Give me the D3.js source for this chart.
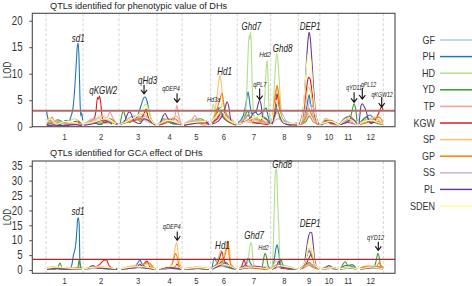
<!DOCTYPE html>
<html><head><meta charset="utf-8">
<script src="https://cdn.jsdelivr.net/npm/d3@7"></script>
<style>
html,body{margin:0;padding:0;background:#fff;}
svg{display:block;font-family:"Liberation Sans",Arial,sans-serif;}
</style></head>
<body><svg id="c" width="472" height="286"></svg>
<script>
// ---------- data ----------
const chrNames = ["1","2","3","4","5","6","7","8","9","10","11","12"];
const chrLengths = [185,180,190,125,143,133,167,138,108,92,100,125]; // cM
const traits = ["GF","PH","HD","YD","TP","KGW","SP","GP","SS","PL","SDEN"];
const traitColors = ["#a6cee3","#1f78b4","#b2df8a","#33a02c","#fb9a99","#e31a1c","#fdbf6f","#ff7f00","#cab2d6","#6a3d9a","#ffff99"];
const thresholdPV = 3.0;
const thresholdGCA = 3.6;
const ticksPV = [0,5,10,15,20];
const ticksGCA = [0,5,10,15,20,25,30,35];

// LOD profiles, phenotypic value (position = cumulative cM, LOD)
const pvGF = [[5,0.5],[60,1.2],[120,0.4],[170,0.8],[195,0.3],[260,0.9],[330,0.5],[375,0.6],[450,1.5],[520,0.7],[565,0.3],[620,0.8],[670,0.4],[690,0.5],[760,1.0],[815,0.3],[830,0.8],[880,2.5],[940,1.0],[965,0.5],[1010,2.8],[1060,1.5],[1110,0.7],[1130,0.6],[1160,3.5],[1200,1.2],[1250,0.4],[1270,0.5],[1310,5.0],[1340,2.0],[1360,0.4],[1375,0.3],[1410,1.0],[1460,0.3],[1470,0.5],[1510,1.5],[1550,0.5],[1570,0.5],[1620,1.2],[1680,0.6]];
const pvPH = [[2,3.1],[10,1.5],[20,0.6],[70,0.4],[100,1.2],[115,1.0],[125,2.0],[135,3.5],[145,8],[152,12.5],[157,15.3],[161,15.8],[165,13],[170,5],[174,2.0],[178,2.6],[183,1.2],[190,0.5],[230,0.8],[270,0.4],[310,1.0],[360,0.5],[375,0.5],[420,1.2],[450,1.5],[465,2.8],[480,4.6],[492,5.6],[500,5.4],[510,4],[520,2],[535,0.8],[550,0.4],[565,0.4],[600,1.0],[640,0.5],[675,0.8],[690,0.5],[730,1.0],[780,0.6],[815,0.9],[830,1.0],[845,2.2],[860,3.6],[870,2.5],[885,3.2],[900,1.8],[920,1.0],[950,0.5],[960,0.8],[985,2.0],[1000,4.5],[1010,6.6],[1020,4.0],[1030,2.5],[1045,3.0],[1060,2.2],[1080,2.8],[1100,3.5],[1110,2.0],[1120,0.8],[1130,1.0],[1140,3.5],[1150,5.8],[1157,6.2],[1165,4.0],[1175,2.0],[1195,1.0],[1230,0.5],[1255,0.8],[1270,0.5],[1290,1.5],[1305,4.0],[1315,6.0],[1325,4.0],[1335,3.8],[1345,2.0],[1360,0.6],[1375,0.4],[1400,1.2],[1430,0.5],[1455,0.8],[1470,0.6],[1490,1.5],[1520,2.0],[1540,1.0],[1555,0.5],[1570,0.8],[1590,1.5],[1620,2.2],[1650,1.0],[1680,0.7]];
const pvHD = [[5,0.5],[40,1.0],[90,0.5],[140,1.5],[180,0.5],[190,0.5],[240,1.2],[300,0.6],[350,1.0],[395,1.0],[455,2.0],[480,3.0],[500,4.3],[515,3.0],[530,1.0],[550,0.5],[560,0.5],[610,1.5],[650,0.6],[675,0.3],[690,0.4],[740,1.5],[790,0.8],[815,0.5],[828,2.5],[835,4.2],[845,3.0],[860,1.5],[875,3.5],[885,5.0],[895,3.0],[915,1.5],[950,0.6],[970,0.6],[995,2.0],[1005,8],[1012,15.5],[1016,17.3],[1020,16.5],[1023,17.8],[1027,14],[1032,6],[1040,2],[1060,1.0],[1080,1.5],[1090,3.5],[1097,8],[1102,11.5],[1106,12.6],[1110,9],[1115,3],[1121,1.0],[1128,1.0],[1135,3.0],[1142,8.0],[1149,12.5],[1153,13.8],[1160,12.0],[1167,8.0],[1175,3.0],[1185,1.0],[1220,0.5],[1255,0.3],[1270,0.5],[1300,2.0],[1315,3.0],[1330,2.0],[1360,0.5],[1375,0.3],[1420,1.0],[1460,0.4],[1470,0.5],[1510,1.5],[1550,0.6],[1570,0.5],[1610,1.5],[1650,0.8],[1680,0.4]];
const pvYD = [[5,0.3],[30,0.8],[60,1.3],[100,0.5],[160,1.0],[180,0.4],[190,0.4],[220,1.0],[270,0.5],[320,1.5],[350,0.6],[370,0.5],[387,2.9],[400,1.5],[420,0.8],[445,2.0],[470,1.0],[500,3.0],[515,1.5],[545,0.5],[565,0.5],[590,1.5],[630,0.6],[670,0.5],[690,0.4],[720,0.8],[770,1.5],[810,0.6],[830,0.8],[850,2.0],[872,3.6],[880,2.0],[900,1.2],[930,0.6],[950,0.5],[962,0.5],[990,1.5],[1008,3.0],[1025,1.0],[1060,0.6],[1090,1.8],[1115,0.5],[1128,0.5],[1145,2.0],[1155,3.2],[1170,1.5],[1200,0.5],[1255,0.4],[1270,0.4],[1300,1.0],[1315,2.0],[1335,1.0],[1360,0.4],[1375,0.5],[1400,1.0],[1430,0.6],[1455,0.4],[1465,0.5],[1495,1.2],[1520,1.5],[1530,3.0],[1540,4.3],[1547,3.5],[1555,1.0],[1570,0.5],[1600,1.8],[1630,1.0],[1660,0.6],[1682,0.4]];
const pvTP = [[5,0.5],[30,1.0],[50,0.4],[90,0.8],[140,0.4],[180,0.6],[200,0.5],[230,1.5],[255,0.8],[290,1.0],[310,2.0],[320,2.8],[330,2.0],[350,0.6],[375,0.5],[410,1.0],[450,1.5],[490,2.0],[530,0.8],[570,0.6],[610,1.5],[630,0.8],[645,2.0],[654,4.1],[662,2.5],[675,0.5],[700,0.3],[725,1.0],[745,2.1],[760,1.0],[790,0.3],[815,0.5],[830,0.5],[860,1.5],[900,2.5],[930,1.0],[950,0.4],[965,0.4],[1000,1.0],[1040,0.6],[1080,1.2],[1115,0.5],[1130,0.5],[1160,1.5],[1200,0.6],[1255,0.3],[1270,0.3],[1300,1.5],[1310,2.5],[1325,1.5],[1360,0.3],[1375,0.3],[1400,1.6],[1420,0.5],[1460,0.3],[1470,0.4],[1500,1.2],[1520,2.2],[1540,1.0],[1555,0.4],[1570,0.5],[1610,1.0],[1650,1.5],[1682,0.4]];
const pvKGW = [[5,0.3],[20,1.2],[40,0.5],[70,0.8],[110,0.3],[150,1.0],[180,0.4],[195,0.5],[220,1.0],[240,1.5],[250,3.0],[257,5.5],[262,5.2],[267,5.8],[272,5.0],[280,2.0],[290,0.8],[320,1.0],[355,0.4],[375,0.5],[420,1.0],[470,1.5],[490,2.5],[500,3.4],[510,2.0],[530,0.8],[550,0.3],[565,0.3],[600,0.8],[640,1.5],[675,0.4],[690,0.3],[740,0.6],[800,0.8],[815,0.4],[830,0.8],[855,1.5],[875,2.5],[895,1.5],[930,0.6],[950,0.3],[965,0.5],[995,1.5],[1010,2.2],[1030,1.0],[1070,0.6],[1110,0.4],[1130,0.5],[1140,2.5],[1150,5.0],[1157,6.0],[1165,4.0],[1175,1.5],[1210,0.5],[1255,0.3],[1270,0.4],[1285,1.5],[1295,4.5],[1305,8.0],[1312,9.3],[1320,9.0],[1330,6.5],[1340,3.0],[1350,1.0],[1365,0.4],[1375,0.4],[1410,0.8],[1450,0.5],[1470,0.4],[1510,0.8],[1550,0.4],[1570,0.5],[1600,1.0],[1630,0.8],[1650,1.5],[1662,2.5],[1670,3.2],[1678,3.8],[1685,3.0]];
const pvSP = [[5,0.8],[20,1.5],[35,0.6],[60,1.0],[100,0.5],[150,0.8],[180,0.5],[190,0.5],[230,1.0],[280,2.0],[320,1.0],[350,0.4],[375,0.6],[430,1.5],[490,2.5],[520,1.0],[550,0.4],[565,0.5],[610,1.2],[650,2.0],[675,0.5],[690,0.4],[740,1.0],[790,1.2],[815,0.8],[830,1.0],[845,3.0],[855,6.0],[865,9.0],[870,9.7],[875,8.5],[885,5.0],[895,3.0],[915,1.2],[950,0.6],[965,0.5],[1000,1.5],[1030,1.0],[1070,2.0],[1110,0.8],[1130,1.0],[1140,4.0],[1150,6.5],[1155,7.3],[1162,6.0],[1170,3.0],[1185,1.0],[1230,0.5],[1255,0.8],[1270,0.6],[1290,2.0],[1300,5.0],[1310,7.5],[1320,7.0],[1335,4.0],[1350,1.5],[1365,0.5],[1375,0.5],[1400,1.5],[1440,0.8],[1460,0.5],[1470,0.6],[1500,1.5],[1530,1.0],[1555,0.5],[1570,0.8],[1600,1.2],[1640,1.8],[1670,1.0],[1684,0.6]];
const pvGP = [[5,0.5],[15,1.0],[30,1.8],[45,0.6],[80,0.8],[130,0.4],[175,0.8],[190,0.4],[240,0.8],[290,1.2],[350,0.5],[375,0.5],[420,1.0],[480,1.5],[530,0.6],[565,0.4],[620,1.0],[675,0.5],[690,0.3],[760,0.8],[815,0.5],[830,0.8],[850,2.5],[860,4.0],[870,5.2],[880,6.3],[890,4.0],[905,2.0],[925,0.8],[950,0.4],[965,0.5],[1000,1.0],[1040,1.5],[1080,1.0],[1115,0.4],[1130,0.8],[1140,4.0],[1150,7.0],[1155,7.8],[1162,6.5],[1170,3.5],[1185,1.0],[1255,0.4],[1270,0.4],[1295,1.5],[1312,3.5],[1330,2.0],[1360,0.4],[1375,0.4],[1420,1.2],[1460,0.4],[1470,0.3],[1510,1.5],[1550,0.5],[1570,0.4],[1620,1.0],[1665,1.8],[1684,0.8]];
const pvSS = [[5,0.8],[40,1.2],[100,0.5],[160,1.0],[190,0.6],[260,1.5],[340,0.8],[375,0.5],[440,2.0],[520,1.0],[565,0.8],[630,1.5],[675,0.6],[690,0.6],[750,1.2],[815,0.5],[830,1.0],[870,2.5],[910,1.2],[950,0.5],[965,0.6],[1010,2.0],[1060,1.0],[1110,0.6],[1130,0.5],[1155,2.5],[1200,0.8],[1255,0.5],[1270,0.5],[1305,3.0],[1318,4.5],[1335,2.0],[1360,0.5],[1375,0.4],[1420,1.0],[1460,0.5],[1470,0.5],[1510,1.0],[1550,0.4],[1570,0.5],[1610,1.5],[1660,0.8]];
const pvPL = [[5,0.2],[40,0.3],[90,0.2],[140,0.4],[180,0.2],[190,0.3],[240,0.6],[280,1.3],[330,0.5],[375,0.4],[395,1.2],[415,2.8],[425,2.5],[440,1.0],[470,0.6],[490,1.5],[520,1.0],[545,0.3],[570,0.5],[585,2.0],[595,2.5],[610,1.5],[635,0.8],[670,0.4],[690,0.3],[740,0.6],[790,1.0],[815,0.4],[830,0.5],[860,1.0],[880,2.0],[895,3.5],[905,4.7],[915,3.5],[925,1.0],[950,0.4],[970,0.5],[995,1.0],[1020,1.5],[1035,2.5],[1050,2.8],[1060,4.2],[1067,5.0],[1075,4.2],[1085,1.5],[1100,1.5],[1120,0.5],[1130,0.5],[1145,2.5],[1157,4.5],[1170,2.0],[1185,0.8],[1220,0.3],[1255,0.5],[1265,0.5],[1280,2.0],[1290,5.0],[1300,11.0],[1310,16.5],[1315,17.8],[1320,17.0],[1330,12.0],[1340,6.0],[1350,2.0],[1365,0.5],[1375,0.3],[1410,1.0],[1445,0.5],[1470,0.4],[1500,0.8],[1530,1.5],[1555,0.6],[1565,0.5],[1570,2.5],[1575,4.0],[1582,4.3],[1590,3.8],[1600,3.0],[1610,1.5],[1625,0.6],[1650,1.0],[1680,0.4]];
const pvSDEN = [[5,1.0],[25,1.5],[50,0.5],[100,1.0],[160,0.6],[190,0.5],[250,1.0],[300,1.5],[350,0.5],[375,0.5],[430,1.5],[470,2.5],[500,4.0],[520,1.5],[550,0.4],[565,0.5],[610,1.2],[670,0.5],[690,0.5],[740,0.8],[800,1.0],[830,1.0],[860,2.5],[875,3.5],[895,2.0],[950,0.5],[965,0.5],[1000,1.0],[1060,2.0],[1100,1.0],[1130,1.0],[1150,5.0],[1165,3.0],[1190,0.8],[1255,0.5],[1270,0.5],[1285,3.0],[1295,8.0],[1305,12.5],[1315,14.0],[1325,12.0],[1335,7.0],[1345,3.0],[1360,0.6],[1375,0.5],[1420,1.0],[1460,0.4],[1470,0.5],[1510,1.5],[1550,0.5],[1570,0.6],[1620,1.2],[1680,0.5]];

// LOD profiles, GCA effect
const gcaGF = [[5,0.3],[80,0.6],[180,0.3],[190,0.3],[280,0.7],[360,0.3],[375,0.4],[470,0.8],[550,0.3],[565,0.3],[640,0.6],[690,0.3],[760,0.5],[830,0.4],[880,1.2],[950,0.3],[965,0.3],[1020,1.0],[1115,0.3],[1130,0.4],[1155,1.8],[1255,0.3],[1270,0.3],[1315,1.5],[1365,0.3],[1375,0.3],[1420,0.5],[1470,0.3],[1520,0.6],[1570,0.3],[1640,0.7],[1684,0.3]];
const gcaPH = [[5,0.3],[60,0.5],[120,0.3],[125,0.8],[130,2.0],[137,5.0],[145,7.0],[150,9.5],[155,14],[158,17.0],[162,17.5],[166,15.0],[169,4.0],[172,1.0],[180,0.4],[190,0.3],[250,0.6],[300,0.4],[355,0.3],[420,0.5],[450,1.5],[470,3.3],[480,2.0],[500,1.0],[540,0.3],[565,0.3],[630,0.8],[675,0.3],[690,0.3],[750,0.6],[815,0.5],[830,0.5],[842,4.2],[850,3.0],[865,2.0],[880,3.0],[900,1.0],[950,0.3],[965,0.5],[1000,2.0],[1012,4.2],[1020,2.5],[1040,1.0],[1080,0.5],[1115,0.3],[1130,0.5],[1140,3.0],[1150,7.5],[1155,8.5],[1162,6.5],[1170,2.5],[1185,0.8],[1255,0.3],[1270,0.5],[1295,2.5],[1305,5.0],[1316,6.5],[1325,5.0],[1335,3.5],[1350,1.0],[1365,0.3],[1375,0.3],[1420,0.8],[1460,0.3],[1470,0.5],[1500,1.5],[1530,1.2],[1555,0.3],[1570,0.4],[1620,0.8],[1680,0.5]];
const gcaHD = [[5,0.4],[90,0.6],[180,0.3],[190,0.3],[270,0.8],[355,0.4],[375,0.3],[460,0.9],[550,0.3],[565,0.3],[630,0.6],[690,0.3],[780,0.6],[830,0.5],[850,2.0],[865,5.0],[874,6.7],[880,5.5],[890,2.0],[910,0.8],[950,0.3],[965,0.3],[995,0.8],[1010,3.0],[1017,7.0],[1023,9.2],[1029,8.0],[1035,3.0],[1045,1.0],[1080,0.5],[1115,0.3],[1128,0.5],[1133,3.0],[1138,12.0],[1142,24.0],[1146,32.0],[1150,34.1],[1154,32.5],[1157,25.0],[1161,18.0],[1164,14.0],[1167,6.0],[1172,2.0],[1185,0.6],[1255,0.3],[1270,0.3],[1300,1.0],[1320,2.0],[1365,0.3],[1375,0.3],[1420,0.6],[1460,0.3],[1470,0.3],[1510,0.8],[1555,0.3],[1570,0.3],[1630,0.8],[1684,0.3]];
const gcaYD = [[5,0.3],[45,0.3],[60,1.0],[70,2.3],[80,0.8],[120,0.3],[160,1.0],[165,3.3],[170,2.0],[176,0.5],[190,0.3],[260,0.8],[340,0.4],[375,0.3],[430,1.0],[500,0.6],[550,0.3],[565,0.3],[620,0.5],[675,0.3],[690,0.3],[750,0.5],[815,0.3],[830,0.5],[860,2.0],[880,1.5],[950,0.3],[965,0.3],[1000,1.0],[1040,0.8],[1080,1.0],[1087,3.5],[1095,5.6],[1102,4.5],[1110,1.5],[1120,0.5],[1130,0.5],[1160,1.0],[1175,3.5],[1185,1.5],[1210,0.4],[1255,0.3],[1270,0.3],[1300,1.5],[1315,2.5],[1340,1.0],[1365,0.3],[1375,0.3],[1420,1.0],[1460,0.3],[1475,0.5],[1485,2.0],[1495,2.8],[1510,1.5],[1530,1.8],[1550,0.5],[1570,0.4],[1610,0.6],[1640,1.0],[1650,3.0],[1659,5.6],[1665,4.5],[1672,1.5],[1685,0.8]];
const gcaTP = [[5,0.4],[60,0.8],[140,0.4],[190,0.3],[240,1.0],[320,0.5],[375,0.3],[440,1.2],[540,0.4],[565,0.3],[640,0.9],[690,0.3],[760,1.0],[815,0.3],[830,0.4],[880,2.0],[950,0.3],[965,0.3],[1030,1.5],[1115,0.3],[1130,0.3],[1170,1.0],[1255,0.3],[1270,0.3],[1320,1.5],[1365,0.3],[1375,0.3],[1410,0.8],[1460,0.3],[1470,0.3],[1520,1.0],[1555,0.3],[1570,0.3],[1640,0.9],[1684,0.3]];
const gcaKGW = [[5,0.3],[40,0.6],[100,0.3],[160,0.8],[180,0.3],[205,0.5],[245,1.0],[270,2.0],[290,3.3],[302,3.4],[315,1.5],[335,0.5],[355,0.3],[375,0.3],[470,1.0],[495,2.5],[505,3.0],[520,1.0],[550,0.3],[565,0.3],[645,1.0],[655,2.0],[665,0.8],[677,0.3],[690,0.3],[760,0.5],[815,0.3],[830,0.5],[850,1.5],[865,3.5],[879,6.1],[890,3.5],[905,1.5],[950,0.3],[970,0.5],[980,1.5],[990,3.4],[1000,1.5],[1020,0.8],[1080,0.4],[1115,0.3],[1130,0.4],[1155,1.5],[1180,0.5],[1255,0.3],[1280,0.5],[1300,2.0],[1315,4.0],[1325,5.4],[1335,3.5],[1350,1.0],[1365,0.3],[1375,0.3],[1420,0.5],[1460,0.3],[1470,0.3],[1510,0.8],[1550,0.3],[1570,0.3],[1620,0.8],[1660,1.2],[1684,0.5]];
const gcaSP = [[5,0.8],[40,1.2],[80,0.5],[140,0.8],[180,0.4],[190,0.5],[250,1.2],[320,0.8],[375,0.5],[440,1.5],[500,2.0],[540,0.6],[565,0.5],[610,0.8],[630,2.0],[640,5.0],[647,8.0],[653,9.2],[660,6.0],[670,2.0],[677,0.6],[690,0.5],[750,1.0],[815,0.5],[830,0.5],[860,2.0],[880,4.0],[895,6.0],[902,8.5],[911,9.6],[917,7.0],[925,2.0],[950,0.4],[965,0.5],[1000,1.0],[1050,0.8],[1100,1.2],[1115,0.5],[1130,0.5],[1150,3.0],[1170,1.0],[1255,0.4],[1270,0.4],[1295,3.0],[1310,6.5],[1320,7.5],[1335,4.0],[1350,1.0],[1365,0.3],[1375,0.4],[1420,1.0],[1460,0.4],[1470,0.4],[1500,1.0],[1550,0.5],[1570,0.4],[1610,1.5],[1660,1.0],[1684,0.8]];
const gcaGP = [[5,0.3],[50,0.5],[120,0.3],[180,0.5],[190,0.4],[280,1.0],[350,0.3],[375,0.3],[460,1.0],[510,2.5],[540,0.5],[565,0.3],[610,0.5],[630,2.0],[640,4.0],[648,5.6],[655,4.5],[665,1.5],[677,0.4],[690,0.3],[760,0.8],[815,0.3],[830,0.5],[860,1.5],[880,2.5],[895,5.0],[905,8.0],[909,9.7],[915,5.0],[925,1.5],[950,0.3],[965,0.3],[1020,0.8],[1080,0.5],[1115,0.3],[1130,0.3],[1160,1.5],[1200,0.5],[1255,0.3],[1270,0.3],[1310,2.0],[1330,1.0],[1365,0.3],[1375,0.3],[1430,0.8],[1460,0.3],[1470,0.3],[1520,0.6],[1555,0.3],[1570,0.5],[1590,1.2],[1620,0.8],[1650,1.0],[1665,2.5],[1675,1.5],[1685,0.8]];
const gcaSS = [[5,0.3],[70,0.7],[180,0.3],[190,0.3],[300,0.8],[375,0.3],[480,1.0],[565,0.3],[650,0.7],[690,0.3],[780,0.6],[830,0.3],[890,1.5],[950,0.3],[965,0.3],[1060,1.0],[1130,0.3],[1165,1.2],[1255,0.3],[1270,0.3],[1325,2.0],[1365,0.3],[1375,0.3],[1440,0.6],[1470,0.3],[1530,0.8],[1570,0.3],[1650,1.0],[1684,0.3]];
const gcaPL = [[5,0.2],[40,0.5],[100,0.3],[150,0.4],[180,0.2],[210,0.5],[235,1.5],[250,0.8],[300,0.5],[355,0.3],[375,0.3],[455,1.0],[470,2.0],[480,1.0],[540,0.3],[565,0.3],[600,0.8],[640,0.5],[675,0.3],[690,0.3],[760,0.5],[815,0.3],[830,0.3],[870,1.5],[900,2.5],[920,1.0],[950,0.3],[965,0.3],[1010,0.8],[1060,1.2],[1100,0.6],[1130,0.3],[1150,1.0],[1160,2.5],[1165,3.0],[1175,1.0],[1255,0.3],[1270,0.4],[1290,2.0],[1300,6.0],[1310,10.5],[1320,12.7],[1328,12.5],[1335,9.0],[1342,4.0],[1350,1.5],[1365,0.3],[1380,0.3],[1400,1.0],[1415,1.5],[1435,0.6],[1460,0.3],[1470,0.3],[1510,0.8],[1550,0.4],[1570,0.4],[1620,1.0],[1665,0.8],[1684,0.4]];
const gcaSDEN = [[5,0.6],[60,1.0],[130,0.5],[180,0.4],[190,0.5],[270,1.0],[350,0.4],[375,0.4],[470,1.2],[550,0.3],[565,0.4],[640,1.5],[677,0.4],[690,0.4],[760,0.8],[815,0.4],[830,0.5],[880,2.0],[950,0.3],[965,0.4],[1030,1.0],[1115,0.3],[1130,0.4],[1160,1.5],[1255,0.3],[1270,0.4],[1300,4.0],[1315,10.0],[1330,8.0],[1345,2.0],[1365,0.3],[1375,0.3],[1430,0.8],[1460,0.3],[1470,0.4],[1520,0.8],[1555,0.3],[1570,0.4],[1630,1.0],[1684,0.4]];

// QTL annotations: [label, position cM, LOD at label centre, font size]
const pvLabels = [["sd1",161.5,16.7,10],["qKGW2",286.5,6.9,10],["qHd3",507.5,8.8,10],["qDEP4",625,7.2,7],["Hd1",892.5,10.4,10],["Hd3a",838.5,5.2,7],["Ghd7",1026.5,18.9,10],["Hd2",1095,13.7,8],["qPL7",1068.5,7.9,7],["Ghd8",1182.5,14.8,10],["DEP1",1320,18.9,10],["qYD11",1540,7.4,6.6],["qPL12",1612,8.0,6.6],["qKGW12",1680,6.1,6.6]];
const pvArrows = [[490,7.9,6.2],[655,6.3,4.6],[1068,7.2,5.1],[1540,6.5,4.6],[1581,7.3,5.2],[1678,5.6,3.7]];
const gcaLabels = [["sd1",160,19.8,10],["qDEP4",628,14.5,7],["Hd1",882,8.1,10],["Ghd7",1040,11.7,10],["Hd2",1087,7.4,7],["Ghd8",1180,35.5,10],["DEP1",1320,15.6,10],["qYD12",1647,11.0,7]];
const gcaArrows = [[656,12.9,10.0],[1661,9.5,6.6]];

// ---------- drawing ----------
const SX = 0.8; // horizontal condensing of the reference's narrow lettering
const pvSeries = [pvGF,pvPH,pvHD,pvYD,pvTP,pvKGW,pvSP,pvGP,pvSS,pvPL,pvSDEN];
const gcaSeries = [gcaGF,gcaPH,gcaHD,gcaYD,gcaTP,gcaKGW,gcaSP,gcaGP,gcaSS,gcaPL,gcaSDEN];
const offsets = [];
chrLengths.reduce((a,l)=>{offsets.push(a);return a+l;},0);
const total = d3.sum(chrLengths);
const bounds = offsets.concat([total]);
const mids = chrLengths.map((l,i)=>offsets[i]+l/2);

const svg = d3.select("#c");
const boxL = 32.3, boxR = 395;
const x = d3.scaleLinear().domain([0,total]).range([46,383.3]);

function chrOf(p){ for(let i=chrLengths.length-1;i>=0;i--) if(p>=offsets[i]) return i; return 0; }

function ctext(g, tx, ty, str, size, anchor, opts){
  const t = g.append("text").attr("transform",`translate(${tx},${ty}) scale(${SX},1)`)
    .attr("text-anchor",anchor).attr("dy","0.35em").attr("font-size",size).attr("fill",(opts&&opts.fill)||"#333").text(str);
  if(opts && opts.italic) t.attr("font-style","italic");
  return t;
}

function panel(opt){
  const y = d3.scaleLinear().domain(opt.ydom).range([opt.bot,opt.top]);
  const g = svg.append("g");
  const cid = "clip"+opt.id;
  svg.append("clipPath").attr("id",cid).append("rect")
    .attr("x",boxL).attr("y",opt.top).attr("width",boxR-boxL).attr("height",opt.bot-opt.top);
  g.selectAll(".sep").data(bounds).join("line")
    .attr("x1",d=>x(d)).attr("x2",d=>x(d)).attr("y1",opt.top).attr("y2",opt.bot)
    .attr("stroke","#cfcfcf").attr("stroke-width",0.9).attr("stroke-dasharray","3,2");
  const line = d3.line().x(d=>x(d[0])).y(d=>y(d[1])).curve(d3.curveMonotoneX);
  const cg = g.append("g").attr("clip-path",`url(#${cid})`);
  opt.series.forEach((s,ti)=>{
    d3.groups(s, d=>chrOf(d[0])).forEach(([c,pts])=>{
      cg.append("path").attr("d",line(pts)).attr("fill","none")
        .attr("stroke",traitColors[ti]).attr("stroke-width",1.1).attr("stroke-linejoin","round");
    });
  });
  g.append("line").attr("x1",boxL).attr("x2",boxR).attr("y1",y(opt.thr)).attr("y2",y(opt.thr))
    .attr("stroke",opt.thrColor).attr("stroke-width",opt.thrWidth);
  g.append("rect").attr("x",boxL).attr("y",opt.top).attr("width",boxR-boxL).attr("height",opt.bot-opt.top)
    .attr("fill","none").attr("stroke","#4a4a4a").attr("stroke-width",1.1);
  // y axis
  const ax = g.append("g").attr("transform",`translate(${boxL},0)`)
    .call(d3.axisLeft(y).tickValues(opt.ticks).tickSize(3).tickFormat(()=>""));
  ax.select(".domain").remove();
  ax.selectAll(".tick line").attr("stroke","#4a4a4a");
  opt.ticks.forEach(t=>ctext(g,22.5,y(t),String(t),12,"end"));
  // LOD label
  g.append("text").attr("transform",`translate(7,${(opt.top+opt.bot)/2}) rotate(-90) scale(${SX},1)`)
    .attr("text-anchor","middle").attr("dy","0.35em").attr("font-size",10).attr("fill","#333").text("LOD");
  // chromosome labels
  const bx = g.append("g").attr("transform",`translate(0,${opt.chrY})`)
    .call(d3.axisBottom(x).tickValues(mids).tickSize(0).tickFormat(()=>""));
  bx.select(".domain").remove();
  mids.forEach((m,i)=>ctext(g,x(m),opt.chrY,chrNames[i],9.5,"middle"));
  // title
  g.append("text").attr("x",50).attr("y",opt.titleY).attr("font-size",9.2).attr("fill","#222").text(opt.title);
  // QTL labels
  opt.labels.forEach(d=>ctext(g,x(d[1]),y(d[2]),d[0],d[3],"middle",{italic:true,fill:"#222"}));
  // arrows
  opt.arrows.forEach(a=>{
    const ax0 = x(a[0]), y0 = y(a[1]), y1 = y(a[2]);
    g.append("path").attr("d",`M${ax0},${y0}L${ax0},${y1}M${ax0-3},${y1-4}L${ax0},${y1}L${ax0+3},${y1-4}`)
      .attr("fill","none").attr("stroke","#111").attr("stroke-width",1.1);
  });
}

panel({id:"pv",ydom:[0,21.4],top:13.3,bot:126.7,series:pvSeries,thr:thresholdPV,thrColor:"#b86a6a",thrWidth:2,
  ticks:ticksPV,chrY:137,title:"QTLs identified for phenotypic value of DHs",titleY:9,labels:pvLabels,arrows:pvArrows});
panel({id:"gca",ydom:[-1.1,36.6],top:161,bot:273.3,series:gcaSeries,thr:thresholdGCA,thrColor:"#a82a2a",thrWidth:1.3,
  ticks:ticksGCA,chrY:281,title:"QTLs identified for GCA effect of DHs",titleY:156,labels:gcaLabels,arrows:gcaArrows});

// legend
const lg = svg.append("g");
traits.forEach((t,i)=>{
  const yy = 40 + i*16.6;
  lg.append("text").attr("transform",`translate(435,${yy}) scale(0.86,1)`).attr("dy","0.35em").attr("text-anchor","end")
    .attr("font-size",10.5).attr("fill","#333").text(t);
  lg.append("line").attr("x1",440).attr("x2",472).attr("y1",yy).attr("y2",yy)
    .attr("stroke",traitColors[i]).attr("stroke-width",1.5);
});
</script></body></html>
